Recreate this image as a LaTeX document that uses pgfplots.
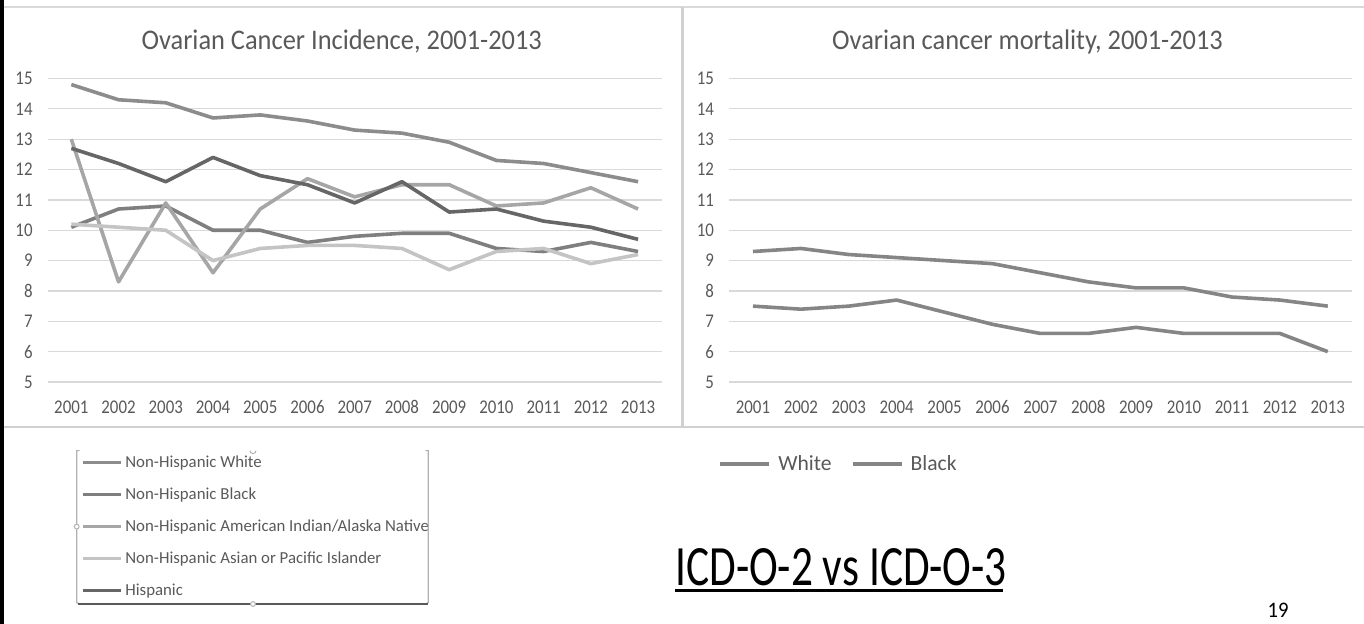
\documentclass[border=0pt]{standalone}
\usepackage{fontspec}
\setmainfont{Carlito}
\newfontfamily\fTitle{Carlito}[FakeStretch=0.93]
\newfontfamily\fTick{Carlito}[FakeStretch=0.87]
\newfontfamily\fLeg{Carlito}
\newfontfamily\fICD{Carlito}[FakeStretch=0.76]
\newfontfamily\fPage{Carlito}[FakeStretch=0.93]
\usepackage{pgfplots}
\pgfplotsset{compat=1.18}
\definecolor{txt}{HTML}{595959}
\definecolor{gridc}{HTML}{D9D9D9}
\definecolor{cW}{HTML}{8C8C8C}
\definecolor{cB}{HTML}{7F7F7F}
\definecolor{cA}{HTML}{A6A6A6}
\definecolor{cP}{HTML}{C4C4C4}
\definecolor{cH}{HTML}{666666}
\definecolor{cR}{HTML}{858585}
\definecolor{frame}{HTML}{D0D0D0}
\pgfplotsset{panel/.style={
  scale only axis, height=151.75bp,
  ymin=5, ymax=15, ytick={5,6,...,15},
  xmin=-0.5, xmax=12.5, xtick={0,1,...,12},
  xticklabels={2001,2002,2003,2004,2005,2006,2007,2008,2009,2010,2011,2012,2013},
  axis line style={draw=none}, major tick length=0pt,
  ymajorgrids, grid style={gridc, line width=0.6bp},
  /pgf/number format/assume math mode=true,
  tick label style={font=\fTick\fontsize{9.7bp}{11bp}\selectfont, text=txt, inner sep=0pt},
  yticklabel style={anchor=east, xshift=-7.35bp},
  xticklabel style={anchor=base, yshift=-15.5bp},
  title style={font=\fTitle\fontsize{14.2bp}{16bp}\selectfont, text=txt, anchor=base, inner sep=0pt, yshift=8.5bp},
  every axis plot/.append style={line width=1.8bp, line join=round, no marks},
}}
\begin{document}
\begin{tikzpicture}
\path[use as bounding box] (0,0) rectangle (682bp,-312bp);
% frame
\fill[black] (0,0) rectangle (2bp,-312bp);
\draw[gridc, line width=1bp] (2bp,-3.35bp) -- (682bp,-3.35bp);
\draw[frame, line width=1.5bp] (341.35bp,-3.35bp) -- (341.35bp,-213.35bp);
\draw[frame, line width=1.2bp] (2bp,-213.35bp) -- (682bp,-213.35bp);

\begin{axis}[panel, at={(23.85bp,-191bp)}, anchor=south west, width=307bp,
  title={Ovarian Cancer Incidence, 2001-2013}, title style={at={(0.4788,1)}},
  legend style={at={(0.0542,-0.2395)}, anchor=north west, draw=none, fill=none,
    inner sep=0pt, font=\fLeg\fontsize{8.4bp}{10bp}\selectfont, text=txt,
    nodes={inner sep=0pt, text height=6bp, text depth=1.8bp},
    row sep=8.2bp, column sep=1.5bp},
  legend cell align=left,
  legend image code/.code={\draw[#1, line width=1.5bp] (0bp,0bp) -- (19bp,0bp);},
]
\addplot[cW] coordinates {(0,14.8) (1,14.3) (2,14.2) (3,13.7) (4,13.8) (5,13.6) (6,13.3) (7,13.2) (8,12.9) (9,12.3) (10,12.2) (11,11.9) (12,11.6)};
\addlegendentry{Non-Hispanic White}
\addplot[cB] coordinates {(0,10.1) (1,10.7) (2,10.8) (3,10.0) (4,10.0) (5,9.6) (6,9.8) (7,9.9) (8,9.9) (9,9.4) (10,9.3) (11,9.6) (12,9.3)};
\addlegendentry{Non-Hispanic Black}
\addplot[cA] coordinates {(0,13.0) (1,8.3) (2,10.9) (3,8.6) (4,10.7) (5,11.7) (6,11.1) (7,11.5) (8,11.5) (9,10.8) (10,10.9) (11,11.4) (12,10.7)};
\addlegendentry{Non-Hispanic American Indian/Alaska Native}
\addplot[cP] coordinates {(0,10.2) (1,10.1) (2,10.0) (3,9.0) (4,9.4) (5,9.5) (6,9.5) (7,9.4) (8,8.7) (9,9.3) (10,9.4) (11,8.9) (12,9.2)};
\addlegendentry{Non-Hispanic Asian or Pacific Islander}
\addplot[cH] coordinates {(0,12.7) (1,12.2) (2,11.6) (3,12.4) (4,11.8) (5,11.5) (6,10.9) (7,11.6) (8,10.6) (9,10.7) (10,10.3) (11,10.1) (12,9.7)};
\addlegendentry{Hispanic}
\end{axis}

\begin{axis}[panel, at={(364.5bp,-191bp)}, anchor=south west, width=311.35bp,
  title={Ovarian cancer mortality, 2001-2013}, title style={at={(0.4794,1)}},
  legend columns=2,
  legend style={at={(-0.01767,-0.2372)}, anchor=north west, draw=none, fill=none,
    inner sep=0pt, font=\fLeg\fontsize{10.8bp}{12bp}\selectfont, text=txt,
    nodes={inner sep=0pt, text height=8bp, text depth=2bp},
    column sep=3.5bp, /tikz/every even column/.append style={column sep=9.5bp}},
  legend image code/.code={\draw[#1, line width=2bp] (0bp,0bp) -- (24.5bp,0bp);},
]
\addplot[cR] coordinates {(0,9.3) (1,9.4) (2,9.2) (3,9.1) (4,9.0) (5,8.9) (6,8.6) (7,8.3) (8,8.1) (9,8.1) (10,7.8) (11,7.7) (12,7.5)};
\addlegendentry{White}
\addplot[cR] coordinates {(0,7.5) (1,7.4) (2,7.5) (3,7.7) (4,7.3) (5,6.9) (6,6.6) (7,6.6) (8,6.8) (9,6.6) (10,6.6) (11,6.6) (12,6.0)};
\addlegendentry{Black}
\end{axis}

% legend selection bracket (left)
\draw[gray!60, line width=0.6bp] (39.8bp,-225.3bp) -- (38.35bp,-225.3bp) -- (38.35bp,-301.3bp) -- (39.8bp,-302bp);
\draw[gray!60, line width=0.6bp] (212.7bp,-225.3bp) -- (214.15bp,-225.3bp) -- (214.15bp,-301.3bp) -- (212.7bp,-302bp);
\draw[black!65, line width=0.8bp] (39bp,-302bp) -- (214bp,-302bp);
\draw[gray!60, line width=0.5bp, fill=white] (38.35bp,-263.3bp) circle (1.2bp);
\draw[gray!60, line width=0.5bp, fill=white] (126.5bp,-302bp) circle (1.2bp);
\draw[gray!60, line width=0.5bp] (125bp,-225.3bp) arc (180:360:1.5bp);

% slide text
\node[anchor=base west, inner sep=0pt, font=\fICD\fontsize{28.5bp}{32bp}\selectfont] at (337.5bp,-292.5bp) {ICD-O-2 vs ICD-O-3};
\draw[black, line width=1.5bp] (337.5bp,-295.35bp) -- (501.5bp,-295.35bp);
\node[anchor=base, inner sep=0pt, font=\fPage\fontsize{11.1bp}{13bp}\selectfont] at (639bp,-308.5bp) {19};
\end{tikzpicture}
\end{document}
